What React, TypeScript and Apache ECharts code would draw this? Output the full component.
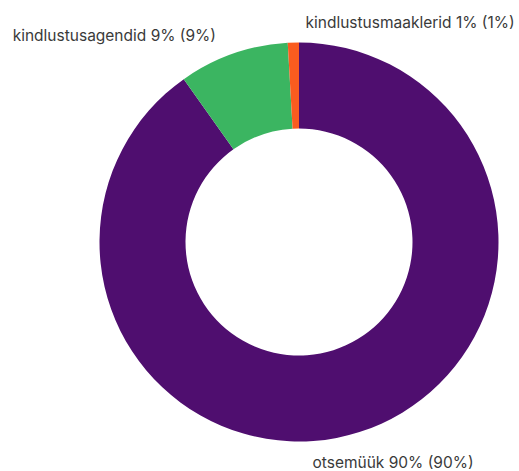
import React, { useEffect, useRef } from "react";
import * as echarts from "echarts";

const categories = ["otsemüük", "kindlustusagendid", "kindlustusmaaklerid"];
const values = [90.2, 8.9, 0.9];
const colors = ["#4f0e6f", "#3bb561", "#fa5c1f"];

// label anchor positions (left edge, vertical middle) for each slice label
const labelAnchors: [number, number][] = [
  [312.5, 462.5],
  [12.7, 35],
  [305.5, 22.5],
];

export default function App() {
  const ref = useRef<HTMLDivElement>(null);
  useEffect(() => {
    if (!ref.current) return;
    const chart = echarts.init(ref.current, undefined, { renderer: "svg" });
    const total = values.reduce((a, b) => a + b, 0);
    chart.setOption({
      animation: false,
      backgroundColor: "#ffffff",
      series: [
        {
          type: "pie",
          center: [299, 242],
          radius: [113.5, 199.5],
          startAngle: 90,
          clockwise: true,
          avoidLabelOverlap: false,
          data: categories.map((name, i) => ({
            name,
            value: values[i],
            itemStyle: { color: colors[i] },
          })),
          label: {
            show: true,
            position: "outside",
            color: "#3a3a3a",
            fontFamily: "Inter",
            fontSize: 15.5,
            formatter: (p: any) => {
              const pct = Math.round((p.value / total) * 100);
              return `${p.name} ${Math.round(p.value)}% (${pct}%)`;
            },
          },
          labelLine: { show: false },
          labelLayout: (params: any) => {
            const a = labelAnchors[params.dataIndex];
            return { x: a[0], y: a[1], align: "left", verticalAlign: "middle" };
          },
          emphasis: { disabled: true },
        },
      ],
    });
    return () => chart.dispose();
  }, []);
  return (
    <div
      ref={ref}
      style={{ position: "fixed", left: 0, top: 0, width: 519, height: 471 }}
    />
  );
}
